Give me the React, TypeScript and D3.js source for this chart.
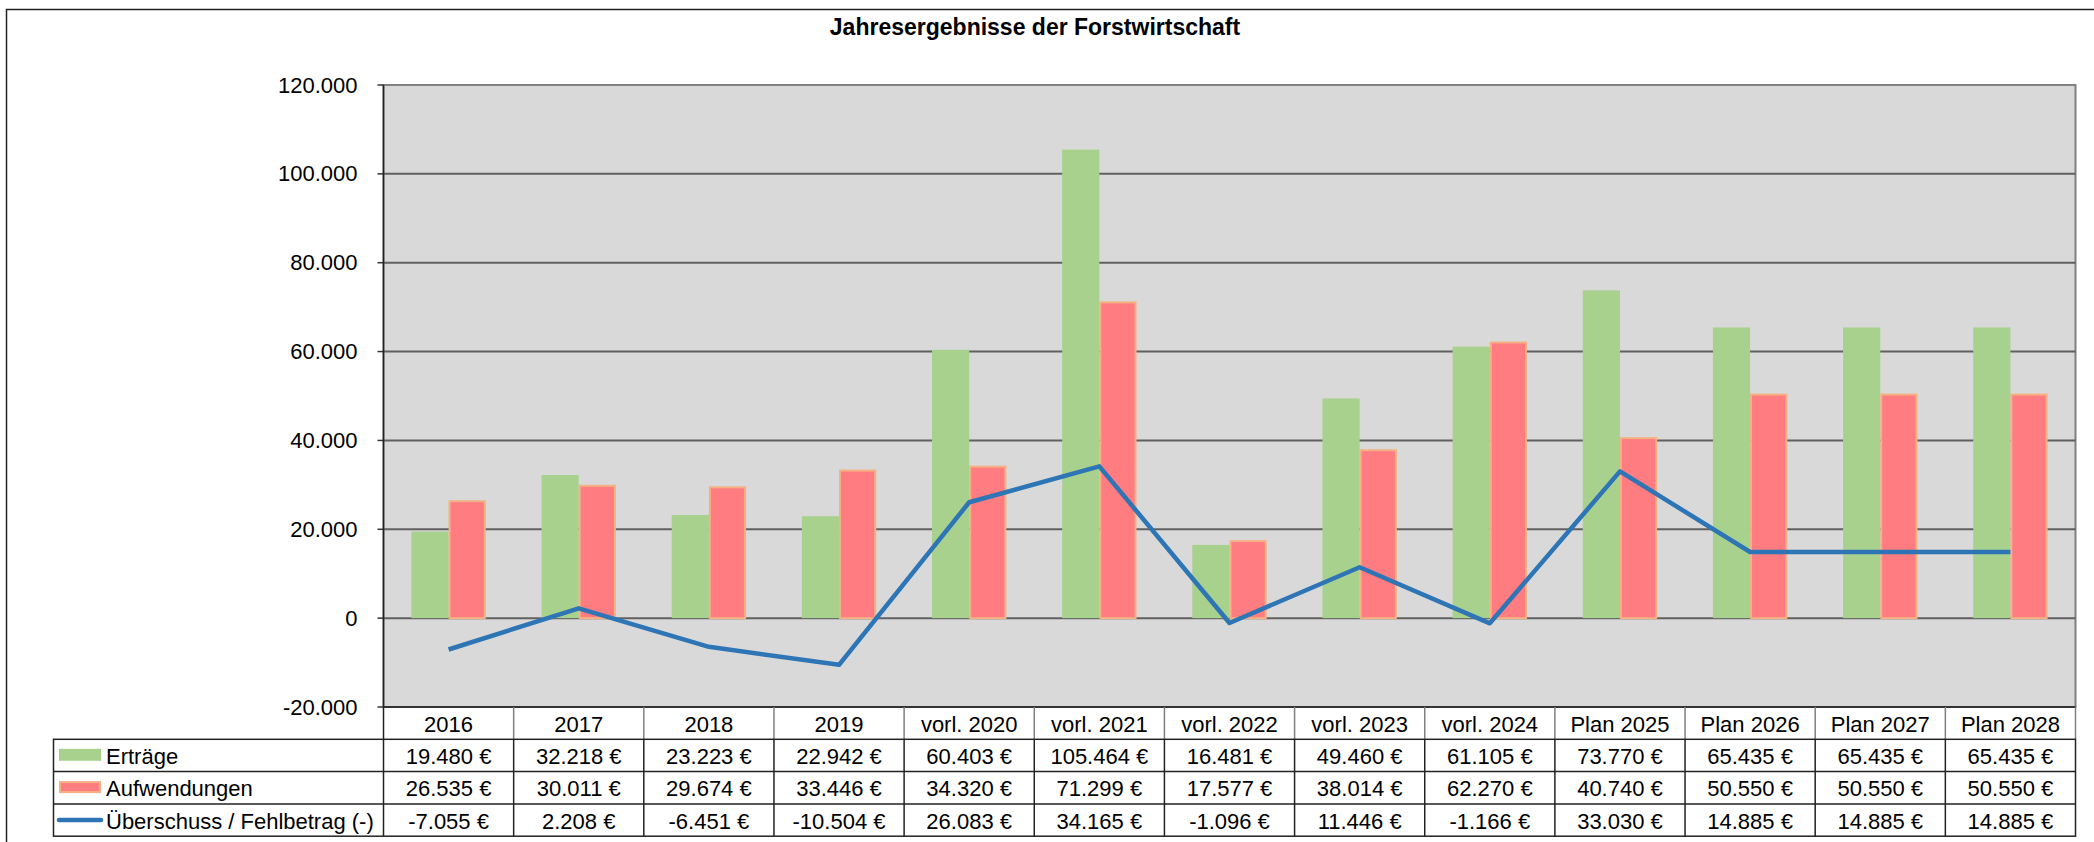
import React, { useEffect, useRef } from "react";
import * as d3 from "d3";

const categories = [
  "2016", "2017", "2018", "2019", "vorl. 2020", "vorl. 2021", "vorl. 2022",
  "vorl. 2023", "vorl. 2024", "Plan 2025", "Plan 2026", "Plan 2027", "Plan 2028",
];
const ertraege = [19480, 32218, 23223, 22942, 60403, 105464, 16481, 49460, 61105, 73770, 65435, 65435, 65435];
const aufwendungen = [26535, 30011, 29674, 33446, 34320, 71299, 17577, 38014, 62270, 40740, 50550, 50550, 50550];
const ueberschuss = [-7055, 2208, -6451, -10504, 26083, 34165, -1096, 11446, -1166, 33030, 14885, 14885, 14885];
const yTicks = [-20000, 0, 20000, 40000, 60000, 80000, 100000, 120000];
const seriesNames = ["Erträge", "Aufwendungen", "Überschuss / Fehlbetrag (-)"];

const W = 2094;
const H = 842;
const FONT = "'Liberation Sans', Arial, sans-serif";
const FS = "22px";

const fmt = (v: number) => {
  const s = Math.abs(v).toString().replace(/\B(?=(\d{3})+(?!\d))/g, ".");
  return (v < 0 ? "-" : "") + s;
};

export default function App() {
  const ref = useRef<SVGSVGElement | null>(null);

  useEffect(() => {
    const svg = d3.select(ref.current);
    svg.selectAll("*").remove();

    const left = 383.5;
    const right = 2075.5;
    const top = 85;
    const bottom = 707;
    const rowH = 32.3;
    const legendLeft = 53.5;

    const x = d3.scaleBand<string>().domain(categories).range([left, right]).padding(0);
    const y = d3.scaleLinear().domain([-20000, 120000]).range([bottom, top]);
    const bw = x.bandwidth() / 3.5;
    const cx = (c: string) => (x(c) as number) + x.bandwidth() / 2;

    // outer frame
    svg.append("rect").attr("x", 6.5).attr("y", 9.5).attr("width", W + 50).attr("height", H + 50)
      .attr("fill", "#fff").attr("stroke", "#222").attr("stroke-width", 1.5);

    svg.append("text").attr("x", 1035).attr("y", 35).attr("text-anchor", "middle")
      .style("font-family", FONT).style("font-size", "23px").style("font-weight", "bold")
      .text("Jahresergebnisse der Forstwirtschaft");

    // plot area
    svg.append("rect").attr("x", left).attr("y", top).attr("width", right - left).attr("height", bottom - top)
      .attr("fill", "#d9d9d9").attr("stroke", "#808080").attr("stroke-width", 2);

    yTicks.forEach((t) => {
      if (t !== 120000) {
        svg.append("line").attr("x1", left).attr("x2", right).attr("y1", y(t)).attr("y2", y(t))
          .attr("stroke", t === -20000 ? "#333" : "#606060").attr("stroke-width", 2);
      }
      svg.append("line").attr("x1", left - 6).attr("x2", left).attr("y1", y(t)).attr("y2", y(t))
        .attr("stroke", "#333").attr("stroke-width", 1.5);
      svg.append("text").attr("x", left - 26).attr("y", y(t)).attr("text-anchor", "end")
        .attr("dominant-baseline", "central").style("font-family", FONT).style("font-size", FS)
        .text(fmt(t));
    });

    // bars
    svg.selectAll(".erl").data(ertraege).enter().append("rect")
      .attr("x", (_, i) => cx(categories[i]) - bw).attr("width", bw)
      .attr("y", (d) => y(Math.max(0, d))).attr("height", (d) => Math.abs(y(d) - y(0)))
      .attr("fill", "#a9d18e");
    svg.selectAll(".auf").data(aufwendungen).enter().append("rect")
      .attr("x", (_, i) => cx(categories[i]) + 1).attr("width", bw - 2)
      .attr("y", (d) => y(Math.max(0, d)) + 1).attr("height", (d) => Math.abs(y(d) - y(0)) - 1)
      .attr("fill", "#ff7c80").attr("stroke", "#f4b183").attr("stroke-width", 2);

    // line
    const line = d3.line<number>().x((_, i) => cx(categories[i])).y((d) => y(d));
    svg.append("path").datum(ueberschuss).attr("d", line).attr("fill", "none")
      .attr("stroke", "#2e75b6").attr("stroke-width", 4.5).attr("stroke-linejoin", "round");

    // y axis line down to table bottom
    const tableBottom = bottom + rowH * 4;
    svg.append("line").attr("x1", left).attr("x2", left).attr("y1", top).attr("y2", tableBottom)
      .attr("stroke", "#222").attr("stroke-width", 1.5);

    // header row
    categories.forEach((c, i) => {
      if (i > 0) {
        svg.append("line").attr("x1", x(c) as number).attr("x2", x(c) as number)
          .attr("y1", bottom).attr("y2", bottom + rowH).attr("stroke", "#808080").attr("stroke-width", 1.5);
      }
      svg.append("text").attr("x", cx(c)).attr("y", bottom + rowH / 2 + 1).attr("text-anchor", "middle")
        .attr("dominant-baseline", "central").style("font-family", FONT).style("font-size", FS).text(c);
    });
    svg.append("line").attr("x1", right).attr("x2", right).attr("y1", bottom).attr("y2", bottom + rowH)
      .attr("stroke", "#808080").attr("stroke-width", 1.5);

    // data table
    const rows = [ertraege, aufwendungen, ueberschuss];
    const t0 = bottom + rowH;
    svg.append("rect").attr("x", legendLeft).attr("y", t0).attr("width", right - legendLeft)
      .attr("height", rowH * 3).attr("fill", "none").attr("stroke", "#222").attr("stroke-width", 1.5);
    [1, 2].forEach((r) => {
      svg.append("line").attr("x1", legendLeft).attr("x2", right).attr("y1", t0 + rowH * r).attr("y2", t0 + rowH * r)
        .attr("stroke", "#222").attr("stroke-width", 1.5);
    });
    categories.forEach((c, i) => {
      if (i > 0) {
        svg.append("line").attr("x1", x(c) as number).attr("x2", x(c) as number)
          .attr("y1", t0).attr("y2", t0 + rowH * 3).attr("stroke", "#222").attr("stroke-width", 1.5);
      }
    });
    rows.forEach((vals, r) => {
      const ym = t0 + rowH * r + rowH / 2 + 1;
      vals.forEach((v, i) => {
        svg.append("text").attr("x", cx(categories[i])).attr("y", ym).attr("text-anchor", "middle")
          .attr("dominant-baseline", "central").style("font-family", FONT).style("font-size", FS)
          .text(fmt(v) + " €");
      });
      svg.append("text").attr("x", 106).attr("y", ym).attr("dominant-baseline", "central")
        .style("font-family", FONT).style("font-size", FS).text(seriesNames[r]);
    });

    // legend keys
    svg.append("rect").attr("x", 59).attr("y", t0 + 9.5).attr("width", 42).attr("height", 12).attr("fill", "#a9d18e");
    svg.append("rect").attr("x", 60).attr("y", t0 + rowH + 10.5).attr("width", 40).attr("height", 10)
      .attr("fill", "#ff7c80").attr("stroke", "#f4b183").attr("stroke-width", 2);
    svg.append("line").attr("x1", 59).attr("x2", 101).attr("y1", t0 + rowH * 2 + 16).attr("y2", t0 + rowH * 2 + 16)
      .attr("stroke", "#2e75b6").attr("stroke-width", 4.5).attr("stroke-linecap", "round");
  }, []);

  return (
    <svg ref={ref} width={W} height={H} style={{ position: "absolute", left: 0, top: 0 }} />
  );
}
